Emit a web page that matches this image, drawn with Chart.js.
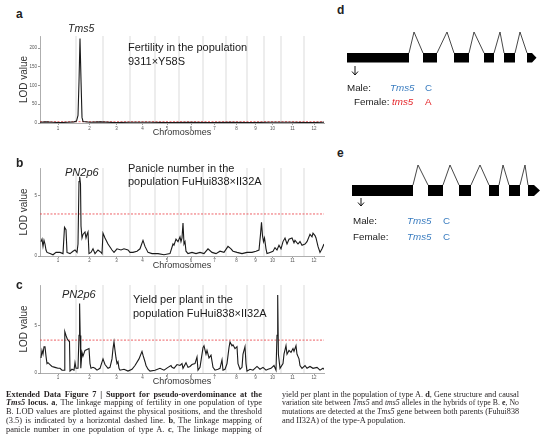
<!DOCTYPE html>
<html>
<head>
<meta charset="utf-8">
<script src="https://cdn.jsdelivr.net/npm/chart.js@4.4.1/dist/chart.umd.min.js"></script>
<style>
html, body { margin: 0; padding: 0; background: #fff; }
#page { position: relative; width: 547px; height: 446px; overflow: hidden; font-family: "Liberation Sans", Arial, sans-serif; color: #222; }
canvas { position: absolute; }
.t { position: absolute; white-space: nowrap; }
.lab { font-weight: bold; font-size: 12px; line-height: 14px; }
.desc { font-size: 11px; line-height: 13.5px; color: #1a1a1a; }
.qtl { font-size: 11px; line-height: 13px; font-style: italic; }
.g { font-size: 9.8px; line-height: 12px; }
.blue { color: #3b7dc0; }
.red { color: #e4262a; }
.cap { position: absolute; font-family: "Liberation Serif", "Times New Roman", serif; font-size: 8.4px; line-height: 8.75px; color: #231f20; }
.cap div { white-space: nowrap; text-align: justify; text-align-last: justify; }
.cap div.end { text-align-last: left; }
svg { position: absolute; left: 0; top: 0; }
</style>
</head>
<body>
<div id="page">
  <canvas id="chartA" width="330" height="114" style="left:0;top:26px"></canvas>
  <canvas id="chartB" width="330" height="123" style="left:0;top:150px"></canvas>
  <canvas id="chartC" width="330" height="118" style="left:0;top:270px"></canvas>

  <div class="t lab" style="left:16px;top:7px">a</div>
  <div class="t lab" style="left:16px;top:156px">b</div>
  <div class="t lab" style="left:16px;top:278px">c</div>
  <div class="t lab" style="left:337px;top:3px">d</div>
  <div class="t lab" style="left:337px;top:146px">e</div>

  <div class="t qtl" style="left:68px;top:22px;font-size:10.5px">Tms5</div>
  <div class="t desc" style="left:128px;top:41px">Fertility in the population<br>9311×Y58S</div>

  <div class="t qtl" style="left:65px;top:165.5px">PN2p6</div>
  <div class="t desc" style="left:128px;top:161.5px;line-height:13px">Panicle number in the<br>population FuHui838×II32A</div>

  <div class="t qtl" style="left:62px;top:287.5px">PN2p6</div>
  <div class="t desc" style="left:133px;top:292px;line-height:14px">Yield per plant in the<br>population FuHui838×II32A</div>

  <svg width="547" height="446" viewBox="0 0 547 446">
    <g fill="#000" stroke="none">
      <rect x="347" y="53" width="62" height="9.5"/>
      <rect x="423" y="53" width="14" height="9.5"/>
      <rect x="454" y="53" width="15" height="9.5"/>
      <rect x="484" y="53" width="10" height="9.5"/>
      <rect x="504" y="53" width="11" height="9.5"/>
      <polygon points="527,53 532,53 536.5,57.75 532,62.5 527,62.5"/>
      <rect x="352" y="185" width="61" height="11"/>
      <rect x="428" y="185" width="15" height="11"/>
      <rect x="459" y="185" width="12" height="11"/>
      <rect x="489" y="185" width="10" height="11"/>
      <rect x="509" y="185" width="11" height="11"/>
      <polygon points="528,185 534,185 540,190.5 534,196 528,196"/>
    </g>
    <g fill="none" stroke="#333" stroke-width="0.9">
      <polyline points="409,53 414,32 423,53"/>
      <polyline points="437,53 447,32 454,53"/>
      <polyline points="469,53 474,32 484,53"/>
      <polyline points="494,53 500,32 504,53"/>
      <polyline points="515,53 520,32 527,53"/>
      <polyline points="413,185 418,165 428,185"/>
      <polyline points="443,185 450,165 459,185"/>
      <polyline points="471,185 480,165 489,185"/>
      <polyline points="499,185 503,165 509,185"/>
      <polyline points="520,185 525,165 528,185"/>
    </g>
    <g fill="none" stroke="#111" stroke-width="1">
      <line x1="355" y1="66" x2="355" y2="75"/>
      <polyline points="352,71.5 355,75 358,71.5"/>
      <line x1="361" y1="198" x2="361" y2="206"/>
      <polyline points="358,202.5 361,206 364,202.5"/>
    </g>
  </svg>

  <div class="t g" style="left:347px;top:81.5px">Male:</div>
  <div class="t g blue" style="left:390px;top:81.5px;font-style:italic">Tms5</div>
  <div class="t g blue" style="left:425px;top:81.5px">C</div>
  <div class="t g" style="left:354px;top:96px">Female:</div>
  <div class="t g red" style="left:392px;top:96px;font-style:italic">tms5</div>
  <div class="t g red" style="left:425px;top:96px">A</div>

  <div class="t g" style="left:353px;top:215px">Male:</div>
  <div class="t g blue" style="left:407px;top:215px;font-style:italic">Tms5</div>
  <div class="t g blue" style="left:443px;top:215px">C</div>
  <div class="t g" style="left:353px;top:230.5px">Female:</div>
  <div class="t g blue" style="left:407px;top:230.5px;font-style:italic">Tms5</div>
  <div class="t g blue" style="left:443px;top:230.5px">C</div>

  <div class="cap" style="left:6px;top:390.5px;width:256px">
    <div><b>Extended Data Figure 7 | Support for pseudo-overdominance at the</b></div>
    <div><b><i>Tms5</i> locus.</b> <b>a</b>, The linkage mapping of fertility in one population of type</div>
    <div>B. LOD values are plotted against the physical positions, and the threshold</div>
    <div>(3.5) is indicated by a horizontal dashed line. <b>b</b>, The linkage mapping of</div>
    <div>panicle number in one population of type A. <b>c</b>, The linkage mapping of</div>
  </div>
  <div class="cap" style="left:282px;top:390.5px;width:237px">
    <div>yield per plant in the population of type A. <b>d</b>, Gene structure and causal</div>
    <div>variation site between <i>Tms5</i> and <i>tms5</i> alleles in the hybrids of type B. <b>e</b>, No</div>
    <div>mutations are detected at the <i>Tms5</i> gene between both parents (Fuhui838</div>
    <div class="end">and II32A) of the type-A population.</div>
  </div>
</div>

<script>
// chromosome ends along the genome axis (cumulative position)
var chrEnds = [36, 63, 90, 115, 139, 163, 186, 207, 224, 241, 264, 284];
var chrLabels = ['1', '2', '3', '4', '5', '6', '7', '8', '9', '10', '11', '12'];
var threshold = 3.5;

// a: fertility, 9311 x Y58S
var aPos = [0, 6, 12, 20, 28, 34, 36.5, 38, 39, 40, 41, 42, 43, 50, 60, 75, 90, 110, 130, 150, 170, 190, 210, 230, 250, 270, 284];
var aLod = [2, 3, 2, 1, 2, 3, 5, 20, 110, 225, 115, 15, 4, 2, 3, 1, 2, 2, 1, 2, 1, 2, 1, 2, 2, 1, 2];
var aTicks = [0, 50, 100, 150, 200];

// b: panicle number, FuHui838 x II32A
var bPos = [1, 2, 3, 4, 5, 6, 7, 10, 13, 16, 20, 23, 24.5, 26, 27, 30, 33, 35, 37, 38, 39, 39.7, 40.5, 41, 42, 43, 45, 46, 47, 48, 49,
    51, 53, 55, 58, 61, 62, 63, 65, 68, 72, 74, 77, 81, 84, 88, 90, 93, 97, 100, 103, 105, 108, 112, 118, 124, 130,
    133, 134, 136, 138, 140, 141, 142, 143, 144, 145, 146, 148, 152, 156, 160, 164, 168, 172, 176, 180, 184, 188, 191, 193,
    197, 202, 207, 212, 216, 219, 220.5, 221.5, 222.5, 223.5, 224.5, 226, 227, 230, 233, 235, 237, 239, 241, 243, 245, 247,
    249, 252, 254, 255, 258, 260, 262, 265, 267, 270, 272, 273, 275, 276, 278, 280, 282, 284];
var bLod = [1.2, 1.4, 0.8, 1.3, 1.0, 0.5, 0.3, 0.2, 0.1, 0.3, 0.3, 0.2, 2.4, 2.2, 0.3, 0.2, 0.4, 0.5, 0.3, 1.0, 6.2, 6.6, 6.0, 2.5, 1.5, 1.8, 2.0, 1.5, 1.8, 2.0, 0.2,
    0.3, 0.6, 0.2, 0.5, 0.3, 0.2, 1.9, 1.5, 1.0, 0.5, 0.3, 0.6, 0.5, 0.6, 0.5, 0.3, 0.3, 0.4, 0.6, 1.3, 0.8, 0.3, 0.2, 0.2, 0.1, 0.2,
    1.0, 0.9, 1.4, 1.2, 1.6, 1.2, 1.5, 2.75, 1.0, 1.2, 0.4, 0.2, 0.3, 0.2, 0.3, 0.2, 0.6, 0.3, 0.2, 0.4, 0.3, 0.8, 0.6, 0.4,
    0.3, 0.2, 0.3, 0.3, 0.4, 0.5, 1.8, 2.8, 1.7, 1.2, 1.5, 0.6, 0.2, 0.3, 0.4, 0.7, 0.5, 0.9, 0.6, 1.2, 1.5, 1.0,
    1.4, 1.5, 1.1, 1.3, 1.0, 1.2, 0.9, 1.0, 1.2, 1.8, 1.6, 1.9, 1.7, 1.5, 0.8, 0.3, 0.6, 1.0];
var bTicks = [0, 5];

// c: yield per plant, FuHui838 x II32A
var cPos = [1, 2, 3, 4, 5, 6, 7, 8, 10, 12, 15, 18, 20, 22, 24, 24.8, 26, 27, 28, 29, 29.5, 30, 32, 34, 35, 36, 38, 39, 39.6, 40.2, 40.8,
    42, 43, 45, 47, 49, 50, 51, 53, 55, 57, 60, 63, 65, 68, 70, 72, 73, 74, 75, 76, 77, 78, 79, 80, 84, 88, 92, 95, 99,
    102, 103, 105, 106, 108, 110, 115, 120, 124, 128, 131, 132, 134, 137, 140, 142, 143, 146, 148, 150, 152, 155, 157, 158,
    160, 163, 164, 166, 167, 169, 171, 173, 175, 178, 180, 182, 183, 185, 187, 189, 190, 192, 193, 195, 197, 198, 200, 202,
    203, 205, 206, 207, 210, 213, 217, 220, 223, 226, 228, 231, 234, 236, 237, 237.7, 238.4, 240, 243, 244, 246, 247, 249,
    251, 253, 254, 256, 257, 259, 260, 262, 265, 267, 270, 273, 277, 280, 283, 284];
var cLod = [1.6, 2.4, 2.0, 2.8, 2.8, 1.8, 1.0, 1.1, 0.9, 0.7, 0.6, 0.5, 0.5, 0.3, 0.3, 4.4, 4.0, 3.7, 3.5, 3.4, 3.3, 0.2, 0.4, 0.3, 1.1, 0.5, 0.5, 4.0, 7.4, 4.0, 0.5,
    2.2, 1.8, 2.4, 2.5, 2.6, 1.0, 0.5, 0.6, 0.5, 0.3, 0.5, 1.5, 0.9, 0.5, 0.6, 1.5, 2.6, 3.3, 2.4, 1.6, 1.0, 1.2, 0.5, 0.3, 0.4, 0.2, 0.4, 0.8, 1.5,
    2.3, 1.9, 1.2, 0.8, 0.4, 0.2, 0.3, 0.5, 0.3, 0.6, 0.8, 0.6, 0.5, 0.9, 0.8, 1.0, 0.5, 1.1, 0.6, 0.7, 0.9, 1.0, 1.7, 0.3,
    0.6, 2.7, 2.9, 2.0, 2.4, 1.6, 1.9, 0.6, 0.3, 0.4, 0.5, 1.4, 0.3, 0.4, 1.0, 2.7, 3.3, 2.9, 3.0, 2.6, 2.8, 1.0, 0.4, 0.6,
    2.0, 2.8, 1.0, 0.2, 0.4, 0.3, 0.7, 0.4, 0.6, 0.3, 0.4, 0.5, 0.8, 0.3, 4.0, 8.3, 2.0, 0.5, 1.0, 2.0, 2.9, 2.0, 2.4,
    2.2, 2.6, 2.3, 2.9, 2.0, 1.5, 0.8, 0.5, 0.8, 0.5, 0.7, 0.5, 0.6, 0.3, 0.5, 0.4];
var cTicks = [0, 5];

function chrMids() {
    var mids = [], start = 0;
    chrEnds.forEach(function(e) { mids.push((start + e) / 2); start = e; });
    return mids;
}

function lodChart(id, pos, lod, yMax, yTicks, o) {
    var curve = pos.map(function(p, i) { return {x: p, y: lod[i]}; });
    var bounds = [];
    chrEnds.slice(0, -1).forEach(function(e) {
        bounds.push({x: e, y: 0}, {x: e, y: yMax}, {x: e, y: null});
    });
    var thr = [{x: 0, y: threshold}, {x: chrEnds[chrEnds.length - 1], y: threshold}];
    var mids = chrMids();

    var ctx = document.getElementById(id).getContext('2d');
    new Chart(ctx, {
        type: 'line',
        data: {
            datasets: [
                {data: curve, borderColor: '#1a1a1a', borderWidth: 1.1, pointRadius: 0, tension: 0},
                {data: thr, borderColor: '#e8383d', borderWidth: 0.8, borderDash: [2, 1.5], pointRadius: 0},
                {data: bounds, borderColor: '#d2d2d2', borderWidth: 0.8, pointRadius: 0, spanGaps: false}
            ]
        },
        options: {
            responsive: false,
            animation: false,
            layout: {padding: {top: o.top, right: 6, left: 0, bottom: 0}},
            plugins: {legend: {display: false}, tooltip: {enabled: false}},
            scales: {
                x: {
                    type: 'linear', min: 0, max: chrEnds[chrEnds.length - 1],
                    afterBuildTicks: function(s) { s.ticks = mids.map(function(v) { return {value: v}; }); },
                    afterFit: function(s) { s.height = o.xh; },
                    ticks: {
                        autoSkip: false, maxRotation: 0, padding: o.tp, color: '#555',
                        font: {size: 4.5, family: 'Liberation Sans'},
                        callback: function(v, i) { return chrLabels[i]; }
                    },
                    grid: {drawOnChartArea: false, tickLength: 2, color: '#999'},
                    border: {color: '#999', width: 0.8},
                    title: {
                        display: true, text: 'Chromosomes', color: '#333',
                        font: {size: 9, family: 'Liberation Sans'}, padding: {top: 0, bottom: o.tb}
                    }
                },
                y: {
                    min: 0, max: yMax,
                    afterBuildTicks: function(s) { s.ticks = yTicks.map(function(v) { return {value: v}; }); },
                    afterFit: function(s) { s.width = 40; },
                    ticks: {padding: 1, color: '#555', font: {size: 4.5, family: 'Liberation Sans'}},
                    grid: {drawOnChartArea: false, tickLength: 2, color: '#999'},
                    border: {color: '#999', width: 0.8},
                    title: {
                        display: true, text: 'LOD value', color: '#333',
                        font: {size: 10, family: 'Liberation Sans'}, padding: {top: 18.5, bottom: 0}
                    }
                }
            }
        }
    });
}

lodChart('chartA', aPos, aLod, 232, aTicks, {top: 10, xh: 17, tp: 1, tb: 1.6});
lodChart('chartB', bPos, bLod, 7.33, bTicks, {top: 18, xh: 17, tp: 0, tb: 1.6});
lodChart('chartC', cPos, cLod, 9.36, cTicks, {top: 15, xh: 15, tp: 0, tb: 1});

// shrink any caption line that would not fit its column
document.querySelectorAll('.cap div').forEach(function(line) {
    var size = 8.4;
    while (line.scrollWidth > line.clientWidth + 0.5 && size > 6) {
        size -= 0.1;
        line.style.fontSize = size + 'px';
    }
});
</script>
</body>
</html>
